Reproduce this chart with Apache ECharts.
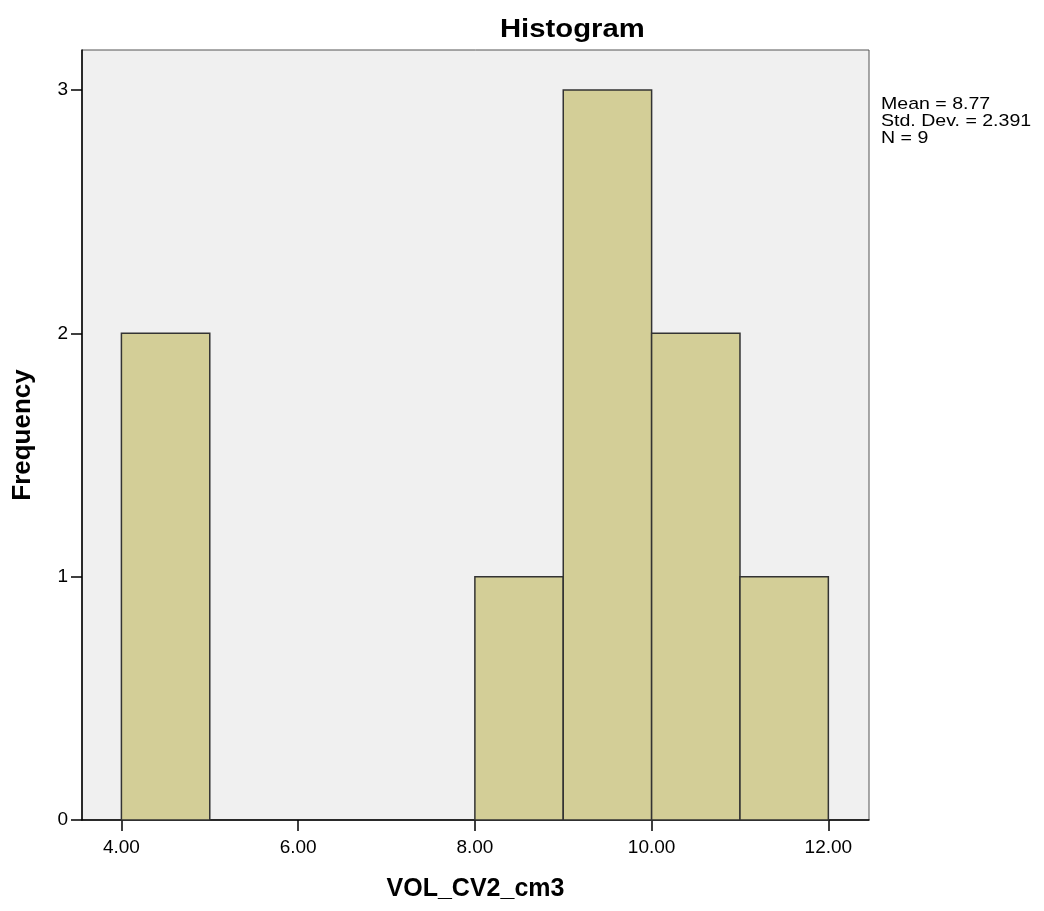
<!DOCTYPE html>
<html>
<head>
<meta charset="utf-8">
<script src="https://cdn.jsdelivr.net/npm/echarts@6/dist/echarts.min.js"></script>
<style>
  html, body { margin: 0; padding: 0; background: #ffffff; }
  #chart { width: 1044px; height: 911px; }
</style>
</head>
<body>
<div id="chart"></div>
<script>
// Histogram bins: lower edge, upper edge, frequency
const binStart = [4, 8, 9, 10, 11];
const binEnd = [5, 9, 10, 11, 12];
const frequency = [2, 1, 3, 2, 1];
const xTicks = [4, 6, 8, 10, 12];
const yTicks = [0, 1, 2, 3];
const statLines = ['Mean = 8.77', 'Std. Dev. = 2.391', 'N = 9'];

const bins = binStart.map((s, i) => [s, binEnd[i], frequency[i]]);

const FONT = 'Liberation Sans, Arial, sans-serif';

const chart = echarts.init(document.getElementById('chart'));
chart.setOption({
  animation: false,
  backgroundColor: '#ffffff',
  grid: {
    left: 82, right: 175, top: 50, bottom: 91,
    outerBoundsMode: 'none',
    containLabel: false,
    show: true,
    backgroundColor: '#f0f0f0',
    borderColor: '#555555',
    borderWidth: 1
  },
  xAxis: {
    type: 'value',
    min: 3.554,
    max: 12.46,
    name: 'VOL_CV2_cm3',
    nameLocation: 'middle',
    nameGap: 57,
    nameTextStyle: { fontFamily: FONT, fontSize: 25, fontWeight: 'bold', color: '#000' },
    splitLine: { show: false },
    axisLine: { show: true, lineStyle: { color: '#000', width: 1.5 } },
    axisTick: {
      show: true, length: 11, lineStyle: { color: '#000', width: 1.5 },
      customValues: xTicks
    },
    axisLabel: {
      customValues: xTicks,
      margin: 18,
      fontFamily: FONT,
      fontSize: 19,
      color: '#000',
      formatter: v => v.toFixed(2)
    }
  },
  yAxis: {
    type: 'value',
    min: 0,
    max: 3.164,
    name: 'Frequency',
    nameLocation: 'middle',
    nameGap: 46,
    nameTextStyle: { fontFamily: FONT, fontSize: 26, fontWeight: 'bold', color: '#000' },
    splitLine: { show: false },
    axisLine: { show: true, lineStyle: { color: '#000', width: 1.5 } },
    axisTick: {
      show: true, length: 11, lineStyle: { color: '#000', width: 1.5 },
      customValues: yTicks
    },
    axisLabel: {
      customValues: yTicks,
      margin: 14,
      fontFamily: FONT,
      fontSize: 19,
      color: '#000'
    }
  },
  graphic: [{
    // chart title, widened slightly
    type: 'text',
    x: 500,
    y: 30,
    scaleX: 1.17,
    style: {
      text: 'Histogram',
      fontFamily: FONT,
      fontSize: 25,
      fontWeight: 'bold',
      verticalAlign: 'middle',
      fill: '#000'
    }
  }, {
    // summary statistics beside the plot
    type: 'text',
    x: 881,
    y: 96,
    scaleX: 1.15,
    style: {
      text: statLines.join('\n'),
      fontFamily: FONT,
      fontSize: 17,
      lineHeight: 17,
      verticalAlign: 'top',
      fill: '#000'
    }
  }],
  series: [{
    type: 'custom',
    data: bins,
    encode: { x: [0, 1], y: 2 },
    renderItem: function (params, api) {
      const p0 = api.coord([api.value(0), api.value(2)]);
      const p1 = api.coord([api.value(1), 0]);
      return {
        type: 'rect',
        shape: { x: p0[0], y: p0[1], width: p1[0] - p0[0], height: p1[1] - p0[1] },
        style: { fill: '#d3ce97', stroke: '#333333', lineWidth: 1.5 }
      };
    }
  }]
});
</script>
</body>
</html>
